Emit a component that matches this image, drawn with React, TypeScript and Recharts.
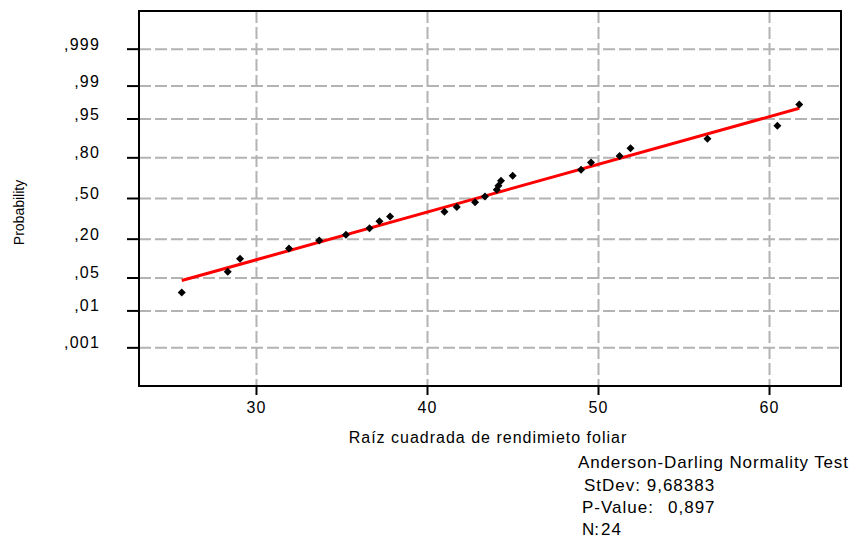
import React from 'react';
import { ScatterChart, Scatter, XAxis, YAxis, CartesianGrid, ReferenceArea } from 'recharts';

const FONT = '"Liberation Sans", Arial, Helvetica, sans-serif';

// Ordered sample values and their plotted cumulative probabilities
const sampleValues = [
  25.63, 28.32, 29.04, 31.9, 33.67, 35.23, 36.61, 37.19, 37.81, 40.99, 41.71, 42.78,
  43.36, 44.05, 44.15, 44.3, 44.98, 48.98, 49.56, 51.23, 51.87, 56.37, 60.46, 61.74,
];
const sampleProbabilities = [
  0.026, 0.065, 0.106, 0.15, 0.192, 0.226, 0.269, 0.318, 0.355, 0.392, 0.43, 0.47,
  0.516, 0.571, 0.604, 0.643, 0.681, 0.724, 0.772, 0.81, 0.851, 0.892, 0.934, 0.974,
];

// Fitted normal line (straight on the probability scale)
const fitValues = [25.63, 61.74];
const fitProbabilities = [0.0448, 0.969];

const probabilityTicks = [0.001, 0.01, 0.05, 0.2, 0.5, 0.8, 0.95, 0.99, 0.999];
const probabilityLabels = [',001', ',01', ',05', ',20', ',50', ',80', ',95', ',99', ',999'];
const valueTicks = [30, 40, 50, 60];

const xTitle = 'Raíz cuadrada de rendimieto foliar';
const yTitle = 'Probability';
const testTitle = 'Anderson-Darling Normality Test';
const stDevText = 'StDev: 9,68383';
const pValueLabel = 'P-Value:';
const pValueText = '0,897';
const countLabel = 'N:';
const countText = '24';

const xDomain: [number, number] = [23.13, 64.18];
const zDomain: [number, number] = [-3.88, 3.88];

// Inverse of the standard normal CDF (Acklam's rational approximation)
function probit(p: number): number {
  const a = [-39.69683028665376, 220.9460984245205, -275.9285104469687, 138.357751867269, -30.66479806614716, 2.506628277459239];
  const b = [-54.47609879822406, 161.5858368580409, -155.6989798598866, 66.80131188771972, -13.28068155288572];
  const c = [-0.007784894002430293, -0.3223964580411365, -2.400758277161838, -2.549732539343734, 4.374664141464968, 2.938163982698783];
  const d = [0.007784695709041462, 0.3224671290700398, 2.445134137142996, 3.754408661907416];
  const plow = 0.02425;
  if (p < plow) {
    const q = Math.sqrt(-2 * Math.log(p));
    return (((((c[0] * q + c[1]) * q + c[2]) * q + c[3]) * q + c[4]) * q + c[5]) /
      ((((d[0] * q + d[1]) * q + d[2]) * q + d[3]) * q + 1);
  }
  if (p <= 1 - plow) {
    const q = p - 0.5;
    const r = q * q;
    return ((((((a[0] * r + a[1]) * r + a[2]) * r + a[3]) * r + a[4]) * r + a[5]) * q) /
      (((((b[0] * r + b[1]) * r + b[2]) * r + b[3]) * r + b[4]) * r + 1);
  }
  const q = Math.sqrt(-2 * Math.log(1 - p));
  return -(((((c[0] * q + c[1]) * q + c[2]) * q + c[3]) * q + c[4]) * q + c[5]) /
    ((((d[0] * q + d[1]) * q + d[2]) * q + d[3]) * q + 1);
}

const points = sampleValues.map((x, i) => ({ x, z: probit(sampleProbabilities[i]) }));
const fitLine = fitValues.map((x, i) => ({ x, z: probit(fitProbabilities[i]) }));
const zTicks = probabilityTicks.map(probit);

const Diamond = (props: any) => {
  const { cx, cy } = props;
  const r = 4;
  return <path d={`M${cx},${cy - r}L${cx + r},${cy}L${cx},${cy + r}L${cx - r},${cy}Z`} fill="#000" />;
};

const NoMarker = () => <g />;

const YTick = (props: any) => {
  const { x, y, payload } = props;
  let idx = 0;
  zTicks.forEach((t, i) => {
    if (Math.abs(t - payload.value) < Math.abs(zTicks[idx] - payload.value)) idx = i;
  });
  return (
    <text x={x} y={y + 0.5} textAnchor="end" fontFamily={FONT} fontSize={16} fill="#000" letterSpacing="1.2">
      {probabilityLabels[idx]}
    </text>
  );
};

const XTick = (props: any) => {
  const { x, y, payload } = props;
  return (
    <text x={x} y={y + 12} textAnchor="middle" fontFamily={FONT} fontSize={16} fill="#000" letterSpacing="1">
      {payload.value}
    </text>
  );
};

export default function App() {
  const note = { fontFamily: FONT, fill: '#000', fontSize: 17 } as const;
  return (
    <div style={{ position: 'absolute', left: 0, top: 0, width: 856, height: 542, background: '#fff' }}>
      <ScatterChart width={856} height={542} margin={{ top: 11, right: 15, bottom: 96, left: 39 }}>
        <CartesianGrid stroke="#b3b3b3" strokeWidth={2} strokeDasharray="12 4" />
        <XAxis
          type="number"
          dataKey="x"
          domain={xDomain}
          ticks={valueTicks}
          allowDataOverflow
          height={60}
          axisLine={false}
          tickLine={{ stroke: '#000', strokeWidth: 2 }}
          tickSize={9}
          tickMargin={6}
          tick={<XTick />}
          interval={0}
        />
        <YAxis
          type="number"
          dataKey="z"
          domain={zDomain}
          ticks={zTicks}
          allowDataOverflow
          width={100}
          axisLine={false}
          tickLine={{ stroke: '#000', strokeWidth: 2 }}
          tickSize={12}
          tickMargin={27}
          tick={<YTick />}
          interval={0}
        />
        <ReferenceArea
          x1={xDomain[0]}
          x2={xDomain[1]}
          y1={zDomain[0]}
          y2={zDomain[1]}
          fill="none"
          fillOpacity={0}
          stroke="#000"
          strokeWidth={2}
          ifOverflow="visible"
        />
        <Scatter
          data={fitLine}
          line={{ stroke: '#ff0000', strokeWidth: 3 }}
          shape={<NoMarker />}
          isAnimationActive={false}
        />
        <Scatter data={points} shape={<Diamond />} isAnimationActive={false} />
      </ScatterChart>
      <svg width={856} height={542} style={{ position: 'absolute', left: 0, top: 0, pointerEvents: 'none' }}>
        <text x={488} y={443} textAnchor="middle" fontFamily={FONT} fontSize={16} fill="#000" letterSpacing="1">
          {xTitle}
        </text>
        <text
          x={0}
          y={0}
          transform="translate(24,212.5) rotate(-90)"
          textAnchor="middle"
          fontFamily={FONT}
          fontSize={14}
          fill="#000"
        >
          {yTitle}
        </text>
        <text x={578} y={468} {...note} letterSpacing="0.85">{testTitle}</text>
        <text x={584} y={491} {...note} letterSpacing="1">{stDevText}</text>
        <text x={582} y={513} {...note} letterSpacing="1">{pValueLabel}</text>
        <text x={668} y={513} {...note} letterSpacing="1">{pValueText}</text>
        <text x={582} y={535} {...note} letterSpacing="0">{countLabel}</text>
        <text x={601} y={535} {...note} letterSpacing="1">{countText}</text>
      </svg>
    </div>
  );
}
